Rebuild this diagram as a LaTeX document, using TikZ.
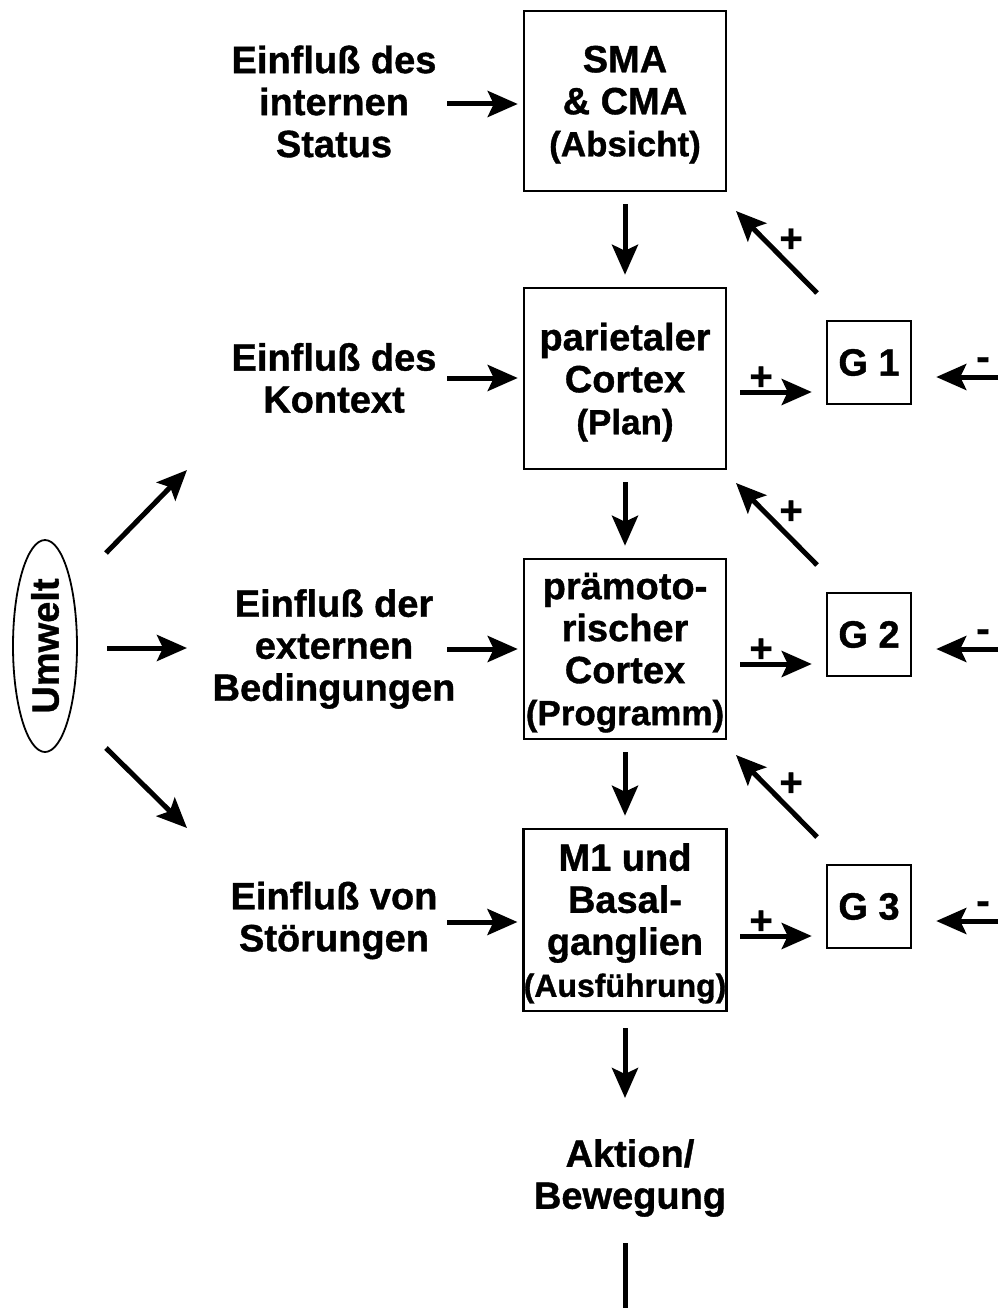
\documentclass[tikz,border=0pt]{standalone}
\usepackage{fontspec}
\setmainfont{Liberation Sans}[BoldFeatures={FakeBold=1}]
\usetikzlibrary{arrows.meta,shapes.geometric}
\begin{document}
\begin{tikzpicture}[x=1pt,y=-1pt,
  every node/.style={font=\bfseries\fontsize{38}{42}\selectfont, align=center, inner sep=0pt},
  stage/.style={draw, line width=2.5pt, minimum width=202pt, minimum height=180pt, text depth=0pt},
  gate/.style={draw, line width=2.5pt, minimum width=84pt, minimum height=83pt},
  sign/.style={anchor=base, font=\bfseries\fontsize{40}{42}\selectfont},
  flow/.style={line width=5pt, -{Stealth[length=30pt,width=26pt,inset=6pt]}},
  plain/.style={line width=5pt}
]
\newcommand\subtext[1]{{\fontsize{35}{42}\selectfont #1}}
\useasboundingbox (0,0) rectangle (998,1308);

% main processing chain
\node[stage, minimum height=180pt] (b1) at (625,101) {SMA\\\& CMA\\\subtext{(Absicht)}};
\node[stage, minimum height=181pt] (b2) at (625,378.5) {parietaler\\Cortex\\\subtext{(Plan)}};
\node[stage, minimum height=180pt] (b3) at (625,649) {prämoto-\\rischer\\Cortex\\\subtext{(Programm)}};
\node[stage, minimum height=182pt] (b4) at (625,920) {M1 und\\Basal-\\ganglien\\{\fontsize{32}{42}\selectfont(Ausführung)}};
\node (act) at (630,1178) {Aktion/\\Bewegung};

\draw[flow, shorten <=12pt, shorten >=12pt] (b1) -- (b2);
\draw[flow, shorten <=12pt, shorten >=12pt] (b2) -- (b3);
\draw[flow, shorten <=12pt, shorten >=12pt] (b3) -- (b4);
\coordinate (actin) at (625,1098);
\coordinate (actout) at (625,1243);
\coordinate (bottom) at (625,1308);
\draw[flow, shorten <=16pt] (b4.south) -- (actin);
\draw[plain] (actout) -- (bottom);

% influences on the left
\node (l1) at (334,101.5) {Einfluß des\\internen\\Status};
\node (l2) at (334,378) {Einfluß des\\Kontext};
\node (l3) at (334,649) {Einfluß der\\externen\\Bedingungen};
\node (l4) at (334,920.5) {Einfluß von\\Störungen};
\coordinate (i1) at (447,104);
\coordinate (i2) at (447,378);
\coordinate (i3) at (447,649);
\coordinate (i4) at (447,922);
\draw[flow, shorten >=5pt] (i1) -- (i1 -| b1.west);
\draw[flow, shorten >=5pt] (i2) -- (i2 -| b2.west);
\draw[flow, shorten >=5pt] (i3) -- (i3 -| b3.west);
\draw[flow, shorten >=5pt] (i4) -- (i4 -| b4.west);

% environment
\node[draw, ellipse, line width=1.8pt, minimum width=212pt, minimum height=64pt, rotate=90] (env) at (45,646) {Umwelt};
\coordinate (u1s) at (106,553);  \coordinate (u1e) at (187,470);
\coordinate (u2s) at (107,648);  \coordinate (u2e) at (187,648);
\coordinate (u3s) at (106,748);  \coordinate (u3e) at (187,828);
\draw[flow] (u1s) -- (u1e);
\draw[flow] (u2s) -- (u2e);
\draw[flow] (u3s) -- (u3e);

% comparator loops
\foreach \k/\dy in {1/0, 2/272, 3/544} {
  \node[gate] (g\k) at (869,362.5+\dy) {G \k};
  \coordinate (p\k) at (740,392+\dy);
  \coordinate (m\k) at (998,377+\dy);
  \coordinate (d\k s) at (817,293+\dy);
  \coordinate (d\k e) at (736,211+\dy);
  \draw[flow, shorten >=14pt] (p\k) -- (p\k -| g\k.west);
  \draw[flow, shorten >=24pt] (m\k) -- (m\k -| g\k.east);
  \draw[flow] (d\k s) -- (d\k e);
  \node[sign] (pp\k) at (761,390+\dy) {+};
  \node[sign] (pd\k) at (791,252+\dy) {+};
  \node[sign] (mm\k) at (983,370+\dy) {-};
}
\end{tikzpicture}
\end{document}
